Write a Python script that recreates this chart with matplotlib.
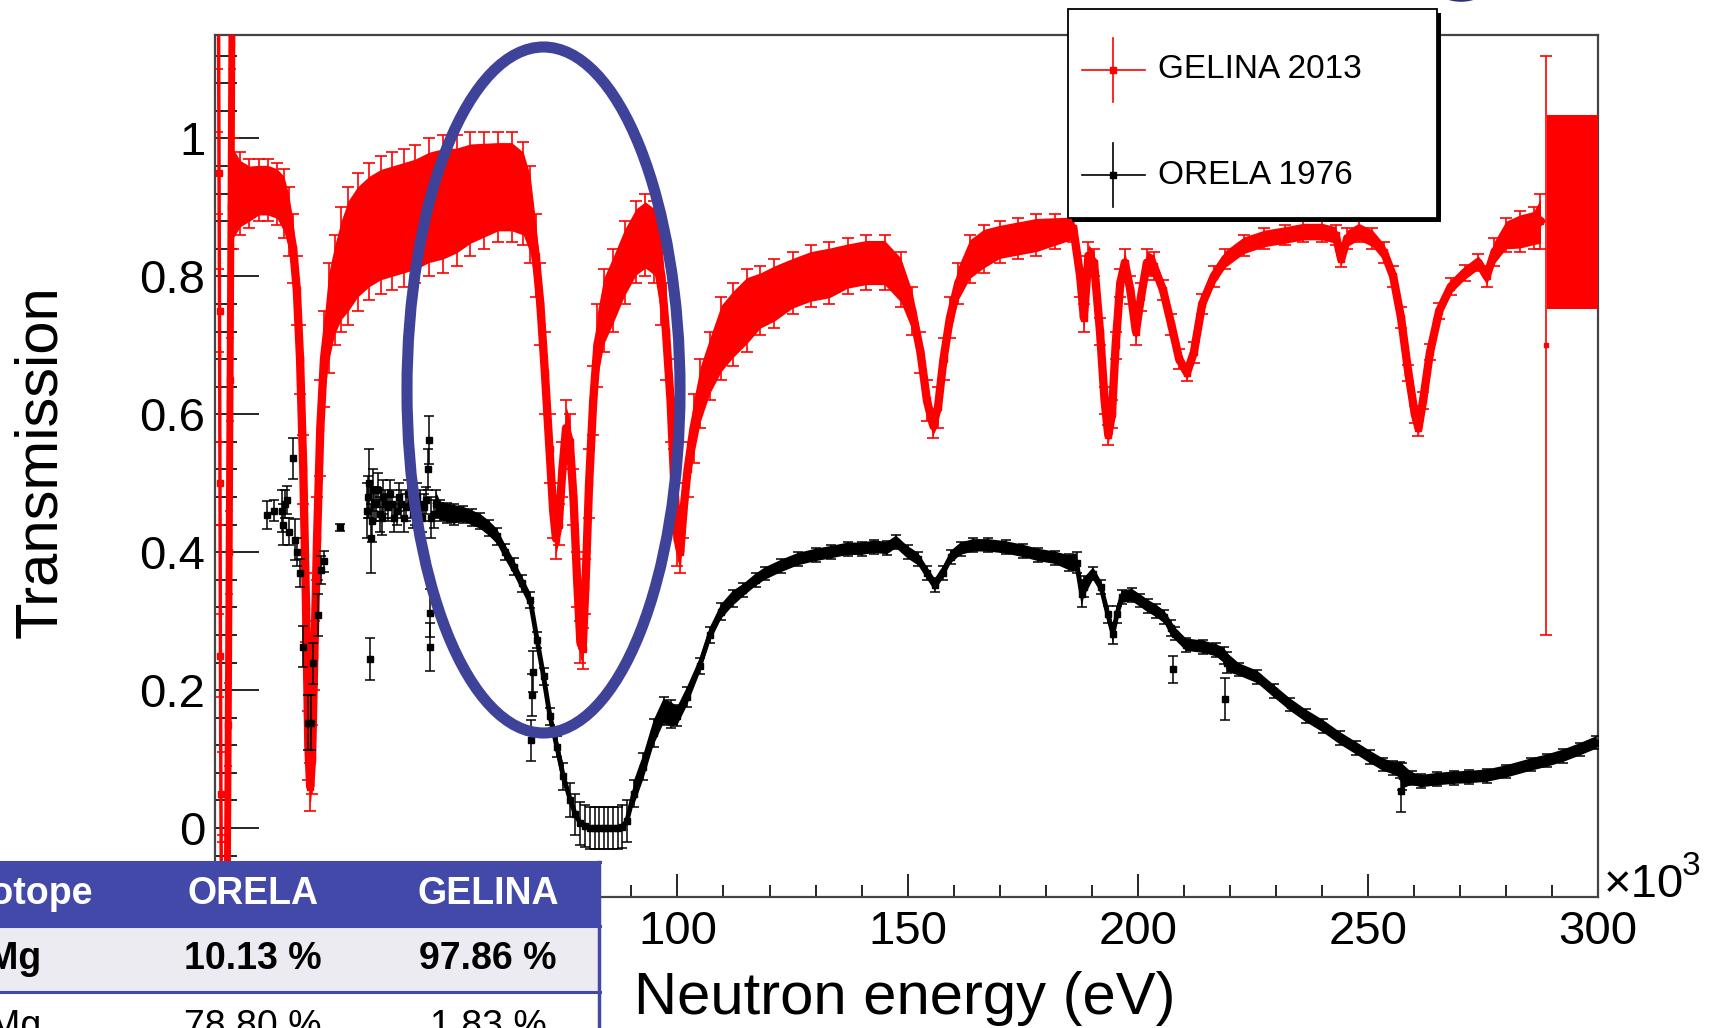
import numpy as np
import matplotlib
matplotlib.use("Agg")
import matplotlib.pyplot as plt
from matplotlib.patches import Ellipse, Rectangle
from matplotlib.lines import Line2D
from matplotlib.ticker import MultipleLocator, FixedLocator, FixedFormatter

# ---------------- data (energy in keV i.e. x10^3 eV) ----------------
# GELINA 2013 – main band (centre, half error)
g_x = [3.5, 5, 7, 9, 11, 13, 14.5, 15.5, 16.5, 17.3, 18.0, 18.7, 19.3, 19.8, 20.2, 20.6,
       21.1, 21.7, 22.4, 23.2, 24.2, 25.5, 27, 28.5, 30.5, 33, 35.5, 38, 40.5, 43, 46,
       49, 52, 55, 58, 61, 64, 66.5, 68, 69.2, 70.2, 71.2, 72.2, 73.0, 73.6, 74.2, 75.0,
       75.8, 76.6, 77.4, 78.2, 78.9, 79.4, 80.0, 80.8, 81.7, 82.6, 84, 86, 88.5, 91, 93,
       95, 96.5, 97.5, 98.5, 99.3, 100.0, 100.6, 101.3, 102.2, 103.5, 105, 107, 109.5,
       112, 115, 118, 121, 125, 129, 133, 137, 141, 145, 148.5, 151, 152.8, 154.2, 155.5,
       156.6, 157.8, 159.2, 161, 163.5, 166.5, 170, 174, 178, 182, 186, 187.5, 188.3,
       189.3, 190.5, 191.8, 192.8, 193.6, 194.4, 195.2, 196.2, 197.2, 198.4, 199.6, 200.7,
       202.0, 203.5, 205.5, 207.3, 209, 210.7, 212.2, 214, 216.5, 219, 223, 227.5, 232,
       236, 240, 243, 244.2, 245.5, 248, 251, 253.5, 255.5, 257.2, 258.8, 260.2, 261.0,
       262.0, 263.5, 265.5, 268, 271, 274, 275.8, 277.5, 280, 283, 286, 287.5]
g_y = [0.92, 0.92, 0.92, 0.925, 0.925, 0.92, 0.905, 0.88, 0.84, 0.78, 0.68, 0.52, 0.32,
       0.12, 0.06, 0.10, 0.25, 0.42, 0.58, 0.68, 0.74, 0.78, 0.81, 0.83, 0.85, 0.865,
       0.875, 0.88, 0.885, 0.89, 0.90, 0.905, 0.91, 0.92, 0.925, 0.93, 0.93, 0.92, 0.89,
       0.83, 0.76, 0.66, 0.55, 0.46, 0.42, 0.44, 0.52, 0.58, 0.56, 0.48, 0.36, 0.27, 0.26,
       0.35, 0.50, 0.62, 0.70, 0.75, 0.78, 0.82, 0.85, 0.86, 0.85, 0.80, 0.72, 0.62, 0.50,
       0.42, 0.40, 0.46, 0.52, 0.58, 0.63, 0.67, 0.71, 0.73, 0.75, 0.765, 0.775, 0.79,
       0.80, 0.805, 0.815, 0.82, 0.82, 0.795, 0.75, 0.69, 0.62, 0.585, 0.61, 0.68, 0.74,
       0.79, 0.825, 0.84, 0.85, 0.855, 0.86, 0.865, 0.87, 0.80, 0.74, 0.83, 0.82, 0.72,
       0.62, 0.57, 0.60, 0.70, 0.79, 0.82, 0.78, 0.72, 0.77, 0.82, 0.815, 0.78, 0.73,
       0.68, 0.66, 0.69, 0.76, 0.80, 0.825, 0.845, 0.855, 0.86, 0.865, 0.865, 0.86, 0.825,
       0.855, 0.865, 0.855, 0.835, 0.80, 0.74, 0.66, 0.60, 0.58, 0.62, 0.69, 0.75, 0.785,
       0.805, 0.82, 0.80, 0.835, 0.86, 0.865, 0.87, 0.88]
g_e = [0.08, 0.06, 0.05, 0.045, 0.045, 0.045, 0.05, 0.05, 0.05, 0.05, 0.05, 0.05, 0.05,
       0.05, 0.035, 0.05, 0.05, 0.06, 0.07, 0.07, 0.08, 0.08, 0.09, 0.10, 0.10, 0.10, 0.10,
       0.10, 0.10, 0.10, 0.10, 0.10, 0.095, 0.09, 0.085, 0.08, 0.08, 0.075, 0.07, 0.06,
       0.06, 0.06, 0.05, 0.04, 0.03, 0.03, 0.04, 0.04, 0.04, 0.04, 0.04, 0.03, 0.03, 0.04,
       0.05, 0.05, 0.06, 0.06, 0.06, 0.06, 0.06, 0.06, 0.06, 0.07, 0.07, 0.06, 0.05, 0.04,
       0.03, 0.04, 0.04, 0.05, 0.05, 0.05, 0.06, 0.06, 0.06, 0.05, 0.05, 0.045, 0.045,
       0.045, 0.04, 0.04, 0.04, 0.04, 0.035, 0.03, 0.03, 0.02, 0.03, 0.03, 0.03, 0.03,
       0.035, 0.035, 0.03, 0.03, 0.03, 0.025, 0.02, 0.03, 0.02, 0.02, 0.02, 0.02, 0.02,
       0.015, 0.02, 0.02, 0.02, 0.02, 0.02, 0.02, 0.02, 0.02, 0.02, 0.015, 0.015, 0.015,
       0.012, 0.015, 0.015, 0.015, 0.015, 0.015, 0.015, 0.015, 0.015, 0.015, 0.015, 0.012,
       0.015, 0.015, 0.015, 0.015, 0.015, 0.015, 0.012, 0.012, 0.012, 0.012, 0.012, 0.012,
       0.012, 0.012, 0.012, 0.015, 0.02, 0.025, 0.03, 0.03, 0.04]

# GELINA low-energy resonances (points spread over the whole range)
g_low1_x = [0.3, 0.4, 0.5, 0.6, 0.7, 0.8, 0.9]
g_low1_y = [1.16, 0.95, 0.75, 0.50, 0.25, 0.05, -0.08]
g_low2_x = [2.2, 2.4, 2.6, 2.8, 3.0, 3.2]
g_low2_y = [-0.08, 0.15, 0.40, 0.65, 0.90, 1.16]
g_low_e = 0.06

# GELINA large-error points near the end of the range
g_out_x = [288.8]
g_out_y = [0.70]
g_out_e = [0.42]
# GELINA last wide bin (low edge, width, centre, half error)
g_bin_lo = [288.9]
g_bin_w = [11.1]
g_bin_y = [0.893]
g_bin_e = [0.141]

# ORELA 1976 – continuous part
o_x = [47.5, 48.5, 49.9, 51.5, 53.5, 55.3, 57.1, 59, 60.8, 62.6, 64.4, 66.2, 68.0, 69.5,
       70.9, 72.3, 73.8, 75.2, 76.7, 77.8, 78.9, 80, 81, 82, 83, 84, 85, 86, 87, 88, 89,
       90.5, 92.6, 94.8, 97.0, 98.5, 100, 102, 104.8, 107, 109.5, 112, 114.3, 117, 119,
       122.5, 126.2, 130, 133.3, 137, 140, 142.8, 145.5, 147.5, 150, 152.3, 154.2, 155.9,
       157.6, 159.4, 161.5, 164.2, 167.5, 171.3, 175, 178.4, 182, 185, 186.7, 187.8, 188.4,
       190.3, 192.0, 193.5, 194.6, 195.5, 196.5, 198.7, 200.5, 202.2, 204, 205.8, 207.2,
       208.1, 210.5, 214.1, 217, 218.8, 219.5, 222, 226, 229.5, 233.1, 236.5, 240.2, 244,
       247.4, 250.5, 253.3, 255.5, 256.9, 257.5, 259.5, 261.6, 265, 268.7, 272, 275.9, 280,
       285.4, 289, 292.5, 296, 299.6]
o_y = [0.47, 0.46, 0.457, 0.455, 0.455, 0.45, 0.445, 0.435, 0.423, 0.40, 0.379, 0.355,
       0.331, 0.273, 0.22, 0.162, 0.118, 0.075, 0.041, 0.02, 0.007, 0.003, 0.0, 0.0, 0.0,
       0.0, 0.0, 0.0, 0.0, 0.002, 0.01, 0.05, 0.089, 0.138, 0.17, 0.165, 0.163, 0.19,
       0.235, 0.28, 0.314, 0.333, 0.345, 0.36, 0.369, 0.38, 0.39, 0.396, 0.40, 0.405,
       0.405, 0.408, 0.406, 0.415, 0.40, 0.39, 0.37, 0.353, 0.37, 0.393, 0.405, 0.41, 0.41,
       0.407, 0.402, 0.396, 0.392, 0.385, 0.385, 0.34, 0.35, 0.369, 0.35, 0.31, 0.282,
       0.31, 0.335, 0.338, 0.33, 0.322, 0.315, 0.306, 0.29, 0.282, 0.266, 0.263, 0.258,
       0.25, 0.24, 0.23, 0.219, 0.199, 0.179, 0.163, 0.148, 0.13, 0.116, 0.103, 0.092,
       0.087, 0.084, 0.075, 0.072, 0.068, 0.071, 0.073, 0.074, 0.076, 0.082, 0.092, 0.098,
       0.105, 0.114, 0.124]
o_e = [0.02, 0.015, 0.015, 0.015, 0.012, 0.012, 0.012, 0.012, 0.012, 0.012, 0.012, 0.012,
       0.012, 0.012, 0.012, 0.012, 0.015, 0.02, 0.025, 0.03, 0.031, 0.031, 0.031, 0.031,
       0.031, 0.031, 0.031, 0.031, 0.031, 0.031, 0.03, 0.02, 0.02, 0.02, 0.02, 0.02,
       0.015, 0.015, 0.012, 0.012, 0.012, 0.012, 0.01, 0.01, 0.01, 0.01, 0.01, 0.01, 0.01,
       0.01, 0.01, 0.01, 0.01, 0.01, 0.01, 0.01, 0.01, 0.01, 0.01, 0.01, 0.01, 0.01, 0.01,
       0.01, 0.01, 0.01, 0.01, 0.012, 0.015, 0.02, 0.015, 0.01, 0.01, 0.012, 0.015, 0.012,
       0.01, 0.01, 0.01, 0.01, 0.01, 0.01, 0.012, 0.01, 0.01, 0.01, 0.01, 0.012, 0.015,
       0.01, 0.01, 0.01, 0.01, 0.01, 0.01, 0.01, 0.01, 0.01, 0.01, 0.01, 0.012, 0.02, 0.01,
       0.01, 0.01, 0.01, 0.01, 0.01, 0.01, 0.01, 0.01, 0.01, 0.01, 0.01]

# ORELA 1976 – scattered low-energy points and outliers
o2_x = [10.9, 12.4, 14.0, 14.4, 14.8, 15.2, 15.6, 16.5, 16.9, 17.3, 18.0, 18.7, 19.7, 20.4,
        20.9, 21.8, 22.5, 23.2, 26.7, 33.2, 32.6, 33.0, 33.4, 33.8, 34.5, 35.3, 36.0, 37,
        38, 39, 40, 41, 42, 43, 44, 45, 45.9, 46.1, 46.2, 46.3, 46.5, 68.2, 68.4, 68.6,
        207.7, 219.0, 257.1,
        32.8, 33.6, 34.1, 34.9, 35.7, 36.5, 37.5, 38.5, 39.5, 40.5, 41.5, 42.5, 43.5, 44.5,
        45.4, 47.0]
o2_y = [0.454, 0.46, 0.46, 0.44, 0.47, 0.476, 0.43, 0.536, 0.418, 0.40, 0.37, 0.263,
        0.153, 0.153, 0.239, 0.309, 0.374, 0.387, 0.436, 0.245, 0.46, 0.50, 0.42, 0.49,
        0.47, 0.455, 0.48, 0.465, 0.47, 0.46, 0.47, 0.465, 0.47, 0.46, 0.47, 0.465, 0.52,
        0.563, 0.312, 0.263, 0.45, 0.127, 0.193, 0.227, 0.23, 0.187, 0.053,
        0.48, 0.445, 0.47, 0.49, 0.45, 0.47, 0.485, 0.45, 0.48, 0.45, 0.485, 0.455, 0.48,
        0.45, 0.475, 0.455]
o2_e = [0.02, 0.015, 0.03, 0.03, 0.02, 0.02, 0.02, 0.03, 0.03, 0.02, 0.02, 0.03, 0.04,
        0.04, 0.03, 0.03, 0.02, 0.015, 0.005, 0.03, 0.04, 0.05, 0.05, 0.03, 0.025, 0.025,
        0.025, 0.02, 0.02, 0.02, 0.02, 0.02, 0.02, 0.02, 0.02, 0.02, 0.03, 0.035, 0.035,
        0.035, 0.03, 0.03, 0.03, 0.03, 0.02, 0.03, 0.03,
        0.03, 0.03, 0.025, 0.025, 0.025, 0.02, 0.02, 0.02, 0.02, 0.02, 0.02, 0.02, 0.02,
        0.02, 0.02, 0.02]

x_ticks = [0, 50, 100, 150, 200, 250, 300]
x_ticklabels = ["", "", "100", "150", "200", "250", "300"]  # 0 and 50 are hidden by the table
y_ticks = [0, 0.2, 0.4, 0.6, 0.8, 1.0]
y_ticklabels = ["0", "0.2", "0.4", "0.6", "0.8", "1"]
series_names = ["GELINA 2013", "ORELA 1976"]

table_cols = ["Isotope", "ORELA", "GELINA"]
table_rows = [["\u00b2\u2074Mg", "10.13 %", "97.86 %"],
              ["\u00b2\u2075Mg", "78.80 %", "1.83 %"]]

# ---------------- figure ----------------
plt.rcParams["font.family"] = ["Liberation Sans", "DejaVu Sans"]
W, H = 1713, 1028
fig = plt.figure(figsize=(W / 100, H / 100), dpi=100)


def fx(px):
    return px / W


def fy(py):
    return 1 - py / H


ax = fig.add_axes([fx(215), fy(897), fx(1598) - fx(215), fy(35) - fy(897)])
ax.set_xlim(-0.48, 300)
ax.set_ylim(-0.1, 1.15)

RED = "#ff0000"
gx, gy, ge = np.array(g_x), np.array(g_y), np.array(g_e)
ax.fill_between(gx, gy - ge * 0.8, gy + ge * 0.8, color=RED, lw=0, zorder=2)
ax.plot(gx, gy, "-", color=RED, lw=6, solid_joinstyle="round", zorder=2)
ax.errorbar(gx, gy, yerr=ge, fmt="s", ms=4.5, color=RED, ecolor=RED, elinewidth=1.2,
            capsize=4, capthick=1.2, zorder=3)
for lx, ly, lw in ((g_low1_x, g_low1_y, 2.5), (g_low2_x, g_low2_y, 5)):
    ax.errorbar(lx, ly, yerr=g_low_e, fmt="s-", ms=4, lw=lw, color=RED, ecolor=RED,
                elinewidth=1.2, capsize=3, capthick=1.2, zorder=3)
ax.errorbar(g_out_x, g_out_y, yerr=g_out_e, fmt="s", ms=3, color=RED, ecolor=RED,
            elinewidth=1.2, capsize=4, capthick=1.2, zorder=3)
ax.bar(g_bin_lo, 2 * np.array(g_bin_e), bottom=np.array(g_bin_y) - np.array(g_bin_e),
       width=g_bin_w, align="edge", color=RED, lw=0, zorder=3)

ox, oy, oe = np.array(o_x), np.array(o_y), np.array(o_e)
ax.fill_between(ox, oy - oe * 0.9, oy + oe * 0.9, where=oe <= 0.02, interpolate=False,
                color="black", lw=0, zorder=4)
ax.plot(ox, oy, "-", color="black", lw=3.5, zorder=4)
ax.errorbar(ox, oy, yerr=oe, fmt="s", ms=5, color="black", ecolor="black",
            elinewidth=1.1, capsize=3.5, capthick=1.1, zorder=4)
ax.errorbar(o2_x, o2_y, yerr=o2_e, fmt="s", ms=5, color="black", ecolor="black",
            elinewidth=1.1, capsize=3.5, capthick=1.1, zorder=4)

# axes styling (ROOT-like)
for sp in ax.spines.values():
    sp.set_color("#444444")
    sp.set_linewidth(1.6)
ax.xaxis.set_major_locator(FixedLocator(x_ticks))
ax.xaxis.set_major_formatter(FixedFormatter(x_ticklabels))
ax.xaxis.set_minor_locator(MultipleLocator(10))
ax.yaxis.set_major_locator(FixedLocator(y_ticks))
ax.yaxis.set_major_formatter(FixedFormatter(y_ticklabels))
ax.yaxis.set_minor_locator(MultipleLocator(0.04))
ax.tick_params(which="both", direction="in", top=False, right=False, color="black",
               width=1.2, labelsize=34)
ax.tick_params(axis="y", which="major", length=32, pad=7)
ax.tick_params(axis="y", which="minor", length=16)
ax.tick_params(axis="x", which="major", length=16.5, pad=9)
ax.tick_params(axis="x", which="minor", length=9)

fig.text(fx(1604), fy(897), "\u00d710", fontsize=34, ha="left", va="baseline")
fig.text(fx(1682), fy(875), "3", fontsize=24, ha="left", va="baseline")
fig.text(fx(905), fy(1014), "Neutron energy (eV)", fontsize=43, ha="center", va="baseline")
fig.text(fx(41), fy(462), "Transmission", fontsize=43, rotation=90, ha="center",
         va="center")

# legend (ROOT style box with shadow)
fig.add_artist(Rectangle((fx(1072), fy(222)), fx(1441) - fx(1072), fy(13) - fy(222),
                         transform=fig.transFigure, facecolor="black", lw=0, zorder=5))
fig.add_artist(Rectangle((fx(1068), fy(218)), fx(1437) - fx(1068), fy(9) - fy(218),
                         transform=fig.transFigure, facecolor="white", edgecolor="black",
                         lw=1.3, zorder=6))
for yc, col, name in ((70, RED, series_names[0]), (175, "black", series_names[1])):
    fig.add_artist(Line2D([fx(1082), fx(1145)], [fy(yc), fy(yc)], transform=fig.transFigure,
                          color=col, lw=1.2, zorder=7))
    fig.add_artist(Line2D([fx(1113), fx(1113)], [fy(yc - 32), fy(yc + 32)],
                          transform=fig.transFigure, color=col, lw=1.2, zorder=7))
    fig.add_artist(Line2D([fx(1113)], [fy(yc)], transform=fig.transFigure, color=col,
                          marker="s", ms=5, zorder=7))
    fig.text(fx(1158), fy(yc), name, fontsize=24, ha="left", va="center", zorder=7)

# highlight ellipses
BLUE = "#3e4299"
fig.add_artist(Ellipse((fx(543.5), fy(390)), 273 / W, 686 / H, transform=fig.transFigure,
                       fill=False, edgecolor=BLUE, lw=8, zorder=8))
fig.add_artist(Ellipse((fx(1461), fy(-46)), 86 / W, 90 / H, transform=fig.transFigure,
                       fill=False, edgecolor="#2b2f7a", lw=4, zorder=8))

# isotope table overlay
TB = "#4349a8"
row_edges = [862, 926, 992, 1060]
fills = [TB, "#ecebf1", "white"]
for i in range(3):
    fig.add_artist(Rectangle((fx(-10), fy(row_edges[i + 1])), fx(609),
                             fy(row_edges[i]) - fy(row_edges[i + 1]),
                             transform=fig.transFigure, facecolor=fills[i], lw=0, zorder=9))
for yy in row_edges[:3]:
    fig.add_artist(Line2D([0, fx(600)], [fy(yy), fy(yy)], transform=fig.transFigure,
                          color=TB, lw=2.2, zorder=10))
fig.add_artist(Line2D([fx(599), fx(599)], [fy(862), 0], transform=fig.transFigure,
                      color=TB, lw=2.5, zorder=10))
col_x = [93, 253, 488]
for j, t in enumerate(table_cols):
    fig.text(fx(col_x[j]), fy(894), t, fontsize=27, fontweight="bold", color="white",
             ha="right" if j == 0 else "center", va="center", zorder=11)
row_y = [959, 1027]
for i, row in enumerate(table_rows):
    for j, t in enumerate(row):
        fig.text(fx(41 if j == 0 else col_x[j]), fy(row_y[i]), t, fontsize=27,
                 fontweight="bold" if i == 0 else "normal", color="black",
                 ha="right" if j == 0 else "center", va="center", zorder=11)

fig.savefig("out.png", dpi=100)
